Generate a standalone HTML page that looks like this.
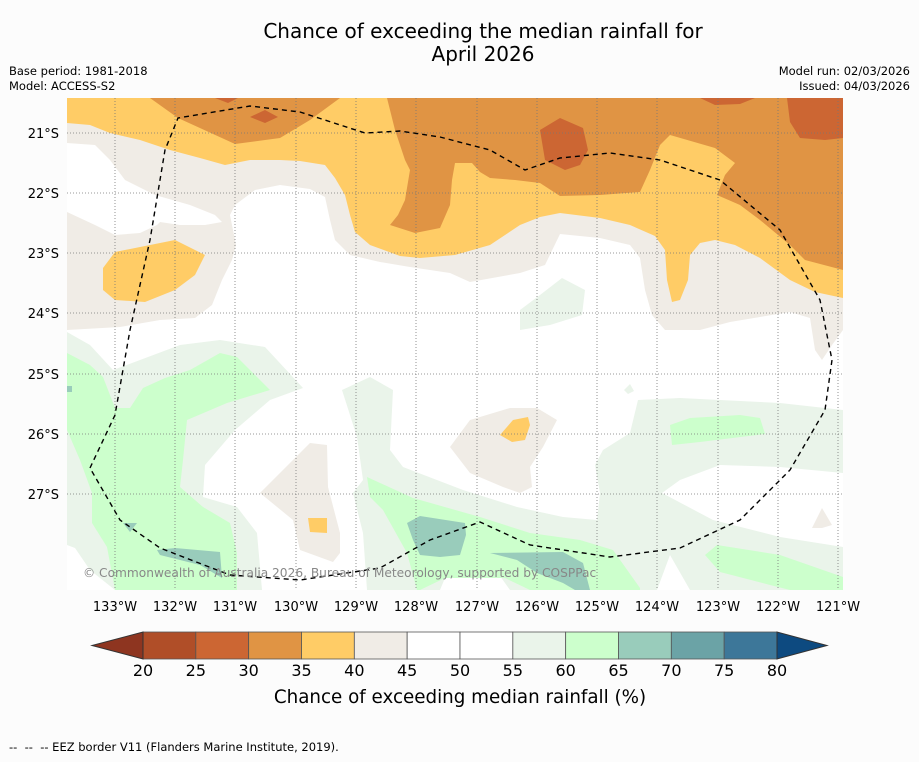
<!DOCTYPE html>
<html><head><meta charset="utf-8"><style>
body{margin:0;background:#fcfcfc;font-family:"DejaVu Sans","Liberation Sans",sans-serif;}
svg text{font-family:"DejaVu Sans","Liberation Sans",sans-serif;}
</style></head><body>
<svg id="chart" width="919" height="758">
<rect width="919" height="758" fill="#fcfcfc"/>
<text x="483" y="38" font-size="20" text-anchor="middle">Chance of exceeding the median rainfall for</text>
<text x="483" y="61" font-size="20" text-anchor="middle">April 2026</text>
<text x="9" y="75" font-size="11.5">Base period: 1981-2018</text>
<text x="9" y="90" font-size="11.5">Model: ACCESS-S2</text>
<text x="910" y="75" font-size="11.5" text-anchor="end">Model run: 02/03/2026</text>
<text x="910" y="90" font-size="11.5" text-anchor="end">Issued: 04/03/2026</text>
<defs><clipPath id="mc"><rect x="67" y="98" width="776" height="492"/></clipPath></defs>
<g clip-path="url(#mc)">
<rect x="67" y="98" width="776" height="492" fill="#ffffff"/>
<path fill="#f0ece6" d="M67,98 L843,98 L843,330 L832,345 L822,360 L815,350 L810,318 L790,312 L730,322 L700,330 L665,330 L652,315 L645,290 L640,258 L630,245 L600,238 L560,234 L545,265 L520,273 L470,282 L450,273 L410,267 L380,262 L350,255 L335,240 L330,220 L325,197 L310,189 L280,185 L255,190 L235,205 L230,215 L236,245 L232,260 L222,280 L212,305 L195,318 L160,320 L120,327 L67,330 Z"/>
<path fill="#ffffff" d="M67,143 L95,145 L110,160 L125,180 L155,195 L190,205 L215,215 L222,222 L205,225 L180,225 L160,222 L157,225 L140,233 L115,235 L95,225 L67,212 Z"/>
<path fill="#ffcc66" d="M67,98 L843,98 L843,298 L815,292 L790,280 L760,258 L735,245 L715,240 L700,243 L690,255 L688,280 L680,300 L672,302 L667,280 L665,250 L655,236 L630,225 L600,218 L560,213 L540,217 L520,225 L490,245 L455,255 L420,258 L400,256 L370,245 L355,232 L350,215 L345,195 L335,178 L325,165 L300,161 L280,160 L250,160 L225,165 L200,158 L170,150 L140,140 L110,133 L90,125 L67,123 Z"/>
<path fill="#e09444" d="M150,98 L340,98 L310,120 L280,138 L235,144 L178,118 Z M387,98 L395,130 L405,160 L410,170 L405,200 L398,215 L390,225 L415,233 L440,228 L450,205 L452,180 L455,163 L472,163 L480,172 L490,178 L515,180 L540,183 L560,196 L600,195 L640,192 L650,170 L660,145 L670,135 L715,148 L735,163 L725,175 L717,195 L740,205 L760,220 L790,245 L805,260 L843,270 L843,98 Z"/>
<path fill="#cc6633" d="M540,130 L560,118 L583,128 L588,150 L580,165 L565,170 L545,160 Z M787,98 L843,98 L843,138 L825,140 L800,138 L790,122 Z M700,98 L755,98 L740,104 L715,105 Z M215,98 L238,98 L228,103 Z M250,117 L265,110 L278,117 L265,123 Z"/>
<path fill="#ffcc66" d="M103,268 L115,252 L175,240 L205,255 L195,275 L175,290 L145,302 L115,300 L103,290 Z"/>
<path fill="#eaf4ea" d="M67,332 L90,345 L113,370 L140,360 L180,345 L220,340 L265,347 L303,388 L270,400 L235,430 L205,465 L203,497 L237,507 L257,533 L262,590 L115,590 L90,570 L75,548 L67,545 Z"/>
<path fill="#eaf4ea" d="M342,390 L370,377 L393,390 L390,450 L403,467 L463,490 L517,507 L563,517 L597,520 L600,493 L595,465 L603,450 L630,433 L638,400 L680,398 L720,400 L780,403 L843,410 L843,590 L367,590 L363,533 L353,493 L363,480 L357,437 Z M520,310 L540,295 L562,278 L585,290 L582,315 L550,325 L520,330 Z M624,390 L630,384 L634,391 L628,394 Z"/>
<path fill="#ffffff" d="M662,493 L680,480 L720,465 L780,467 L843,473 L843,547 L780,537 L713,520 Z M440,590 L445,578 L500,576 L510,590 Z M657,590 L670,555 L690,590 Z"/>
<path fill="#ccffcc" d="M67,353 L90,365 L103,377 L115,408 L130,408 L143,388 L165,378 L190,370 L220,353 L237,357 L270,390 L227,403 L187,420 L183,460 L180,487 L203,507 L230,523 L237,553 L237,590 L115,590 L107,547 L92,523 L92,493 L80,460 L67,430 Z M367,477 L413,498 L480,517 L530,533 L580,540 L613,550 L640,588 L640,590 L530,590 L505,578 L445,578 L420,590 L417,590 L407,553 L383,510 L370,497 Z M670,425 L690,418 L740,415 L760,418 L765,434 L700,442 L672,445 Z M705,555 L717,545 L780,555 L843,577 L843,590 L790,590 L770,585 L720,572 Z"/>
<path fill="#99ccbb" d="M407,523 L420,516 L465,523 L466,535 L460,555 L440,557 L420,555 L413,540 Z M490,553 L563,552 L583,563 L590,590 L575,590 L563,583 L537,573 L517,560 Z M157,550 L175,548 L220,552 L222,578 L200,565 L160,555 Z M123,523 L137,523 L130,532 Z M67,386 L72,386 L72,392 L67,392 Z"/>
<path fill="#f0ece6" d="M450,447 L470,420 L510,408 L537,408 L557,420 L543,447 L530,467 L532,487 L520,493 L503,487 L470,473 Z M260,493 L310,443 L327,445 L328,487 L340,533 L340,553 L333,562 L300,550 L293,520 Z M812,528 L822,508 L832,525 L822,528 Z"/>
<path fill="#ffcc66" d="M500,435 L513,420 L528,417 L530,425 L525,440 L512,442 Z M308,518 L327,518 L327,533 L310,532 Z"/>
<g stroke="#777" stroke-width="0.8" stroke-dasharray="1,2">
<line x1="115" y1="98" x2="115" y2="590"/><line x1="175" y1="98" x2="175" y2="590"/><line x1="235" y1="98" x2="235" y2="590"/><line x1="296" y1="98" x2="296" y2="590"/><line x1="356" y1="98" x2="356" y2="590"/><line x1="416" y1="98" x2="416" y2="590"/><line x1="477" y1="98" x2="477" y2="590"/><line x1="537" y1="98" x2="537" y2="590"/><line x1="597" y1="98" x2="597" y2="590"/><line x1="657" y1="98" x2="657" y2="590"/><line x1="718" y1="98" x2="718" y2="590"/><line x1="778" y1="98" x2="778" y2="590"/><line x1="838" y1="98" x2="838" y2="590"/>
<line x1="67" y1="133" x2="843" y2="133"/><line x1="67" y1="193" x2="843" y2="193"/><line x1="67" y1="253" x2="843" y2="253"/><line x1="67" y1="313" x2="843" y2="313"/><line x1="67" y1="374" x2="843" y2="374"/><line x1="67" y1="434" x2="843" y2="434"/><line x1="67" y1="494" x2="843" y2="494"/>
</g>
<path fill="none" stroke="#000" stroke-width="1.4" stroke-dasharray="5,4" d="M90,468 L115,415 L130,330 L150,240 L165,150 L178,118 L250,106 L300,112 L365,133 L400,131 L440,137 L490,150 L525,170 L560,158 L610,153 L660,160 L720,180 L780,230 L820,300 L832,360 L825,410 L790,470 L740,520 L680,548 L610,557 L530,545 L480,522 L430,540 L380,568 L300,580 L230,575 L160,548 L120,520 Z"/>
<text x="83" y="577" font-size="12.2" fill="#888">© Commonwealth of Australia 2026, Bureau of Meteorology, supported by COSPPac</text>
</g>
<g font-size="13" text-anchor="middle">
<text x="115" y="611">133°W</text><text x="175" y="611">132°W</text><text x="235" y="611">131°W</text><text x="296" y="611">130°W</text><text x="356" y="611">129°W</text><text x="416" y="611">128°W</text><text x="477" y="611">127°W</text><text x="537" y="611">126°W</text><text x="597" y="611">125°W</text><text x="657" y="611">124°W</text><text x="718" y="611">123°W</text><text x="778" y="611">122°W</text><text x="838" y="611">121°W</text>
</g>
<g font-size="13" text-anchor="end">
<text x="59" y="138">21°S</text><text x="59" y="198">22°S</text><text x="59" y="258">23°S</text><text x="59" y="318">24°S</text><text x="59" y="379">25°S</text><text x="59" y="439">26°S</text><text x="59" y="499">27°S</text>
</g>
<g id="cbar"></g>
<text x="460" y="703" font-size="18.3" text-anchor="middle">Chance of exceeding median rainfall (%)</text>
<text x="9" y="751" font-size="11.5" style="white-space:pre">--  --  -- EEZ border V11 (Flanders Marine Institute, 2019).</text>
</svg>
<script>
const levels=[20,25,30,35,40,45,50,55,60,65,70,75,80];
const binColors=["#b04e28","#cc6633","#e09444","#ffcc66","#f0ece6","#ffffff","#ffffff","#eaf4ea","#ccffcc","#99ccbb","#6ba3a6","#3d7799"];
const extColors=["#8e3520","#0d4a80"];
const g=document.getElementById('cbar');const ns="http://www.w3.org/2000/svg";
const x0=143,x1=777,y0=632,h=27;
const sx=v=>x0+(v-levels[0])/(levels[levels.length-1]-levels[0])*(x1-x0);
for(let i=0;i<binColors.length;i++){const r=document.createElementNS(ns,'rect');
r.setAttribute('x',sx(levels[i]));r.setAttribute('y',y0);r.setAttribute('width',sx(levels[i+1])-sx(levels[i]));r.setAttribute('height',h);
r.setAttribute('fill',binColors[i]);r.setAttribute('stroke','#555');r.setAttribute('stroke-width','0.8');


g.appendChild(r);}
const pl=document.createElementNS(ns,'polygon');pl.setAttribute('points',`${x0},${y0} ${x0},${y0+h} 92,${y0+h/2}`);pl.setAttribute('fill',extColors[0]);pl.setAttribute('stroke','#333');


g.appendChild(pl);
const pr=document.createElementNS(ns,'polygon');pr.setAttribute('points',`${x1},${y0} ${x1},${y0+h} 827,${y0+h/2}`);pr.setAttribute('fill',extColors[1]);pr.setAttribute('stroke','#333');


g.appendChild(pr);
levels.forEach(v=>{const t=document.createElementNS(ns,'text');t.setAttribute('x',sx(v));t.setAttribute('y',676);t.setAttribute('font-size','16');t.setAttribute('text-anchor','middle');t.textContent=v;


g.appendChild(t);});
</script>
</body></html>
